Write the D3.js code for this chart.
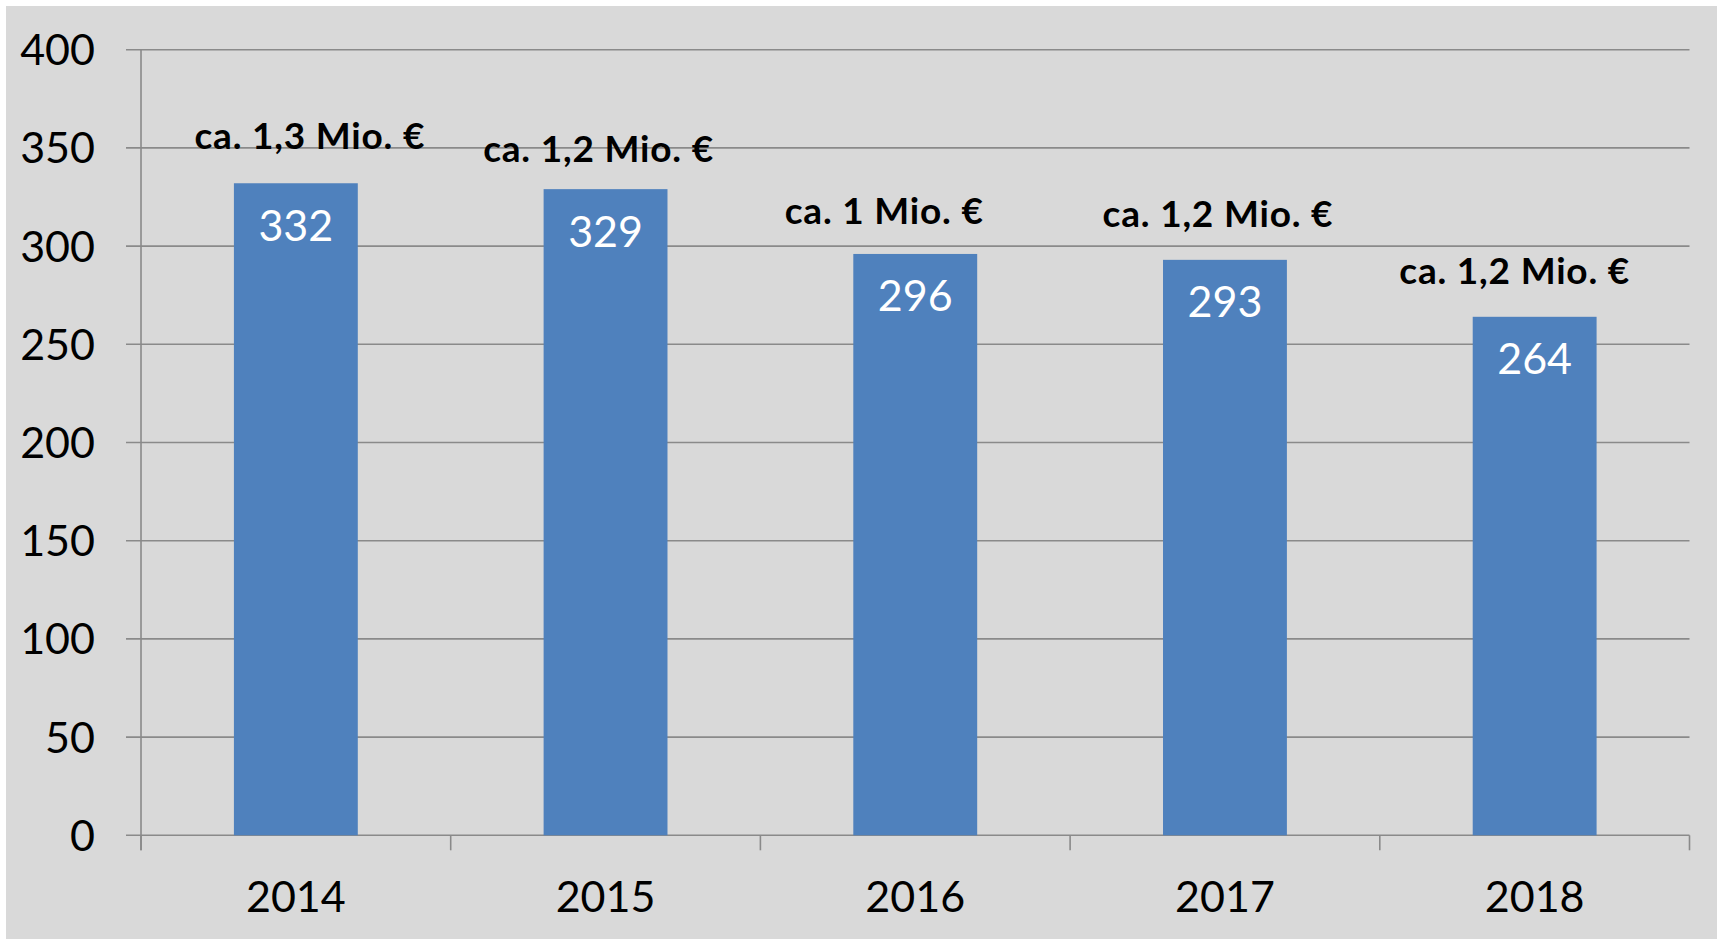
<!DOCTYPE html>
<html>
<head>
    <meta charset="utf-8">
    <script type="text/javascript" src="https://cdnjs.cloudflare.com/ajax/libs/d3/7.8.5/d3.min.js"></script>
    <style>
        body { margin: 0; background: white; }
        text { font-family: Lato, "Open Sans", sans-serif; }
    </style>
</head>
<body>
    <div id="chart"></div>
    <script type="text/javascript">
        // chart data
        const years = ["2014", "2015", "2016", "2017", "2018"];
        const counts = [332, 329, 296, 293, 264];
        const notes = ["ca. 1,3 Mio. €", "ca. 1,2 Mio. €", "ca. 1 Mio. €", "ca. 1,2 Mio. €", "ca. 1,2 Mio. €"];
        const yTicks = [0, 50, 100, 150, 200, 250, 300, 350, 400];

        // layout constants
        const width = 1717, height = 939;
        const plotLeft = 141, plotRight = 1689.5, plotTop = 49.7, plotBottom = 835.3;
        // hand placed text boxes above bars (dx from bar centre, dy above bar top)
        const noteShift = [[14, 48], [-7, 40], [-31, 43], [-7, 46], [-20, 46]];

        const svg = d3.select("#chart")
            .append("svg")
            .attr("width", width)
            .attr("height", height);

        svg.append("rect")
            .attr("x", 6).attr("y", 6)
            .attr("width", width - 6).attr("height", height - 6)
            .attr("fill", "#d9d9d9");

        const x = d3.scaleBand()
            .domain(years)
            .range([plotLeft, plotRight])
            .paddingInner(0.6)
            .paddingOuter(0.3);

        const y = d3.scaleLinear()
            .domain([0, 400])
            .range([plotBottom, plotTop]);

        // gridlines
        svg.selectAll("line.grid")
            .data(yTicks)
            .enter()
            .append("line")
            .attr("class", "grid")
            .attr("x1", plotLeft - 15)
            .attr("x2", plotRight)
            .attr("y1", d => y(d))
            .attr("y2", d => y(d))
            .attr("stroke", "#8a8a8a")
            .attr("stroke-width", 1.6);

        // y axis line
        svg.append("line")
            .attr("x1", plotLeft).attr("x2", plotLeft)
            .attr("y1", plotTop).attr("y2", plotBottom + 15)
            .attr("stroke", "#8a8a8a")
            .attr("stroke-width", 1.6);

        // category ticks
        const step = x.step();
        svg.selectAll("line.xtick")
            .data(d3.range(years.length + 1))
            .enter()
            .append("line")
            .attr("class", "xtick")
            .attr("x1", d => plotLeft + d * step)
            .attr("x2", d => plotLeft + d * step)
            .attr("y1", plotBottom)
            .attr("y2", plotBottom + 15)
            .attr("stroke", "#8a8a8a")
            .attr("stroke-width", 1.6);

        // y labels
        svg.selectAll("text.ylab")
            .data(yTicks)
            .enter()
            .append("text")
            .attr("class", "ylab")
            .attr("x", 95)
            .attr("y", d => y(d))
            .attr("dy", "0.36em")
            .attr("text-anchor", "end")
            .style("font-size", "43px")
            .text(d => d);

        // x labels
        svg.selectAll("text.xlab")
            .data(years)
            .enter()
            .append("text")
            .attr("class", "xlab")
            .attr("x", d => x(d) + x.bandwidth() / 2)
            .attr("y", 897)
            .attr("dy", "0.36em")
            .attr("text-anchor", "middle")
            .style("font-size", "43px")
            .text(d => d);

        // bars
        svg.selectAll("rect.bar")
            .data(counts)
            .enter()
            .append("rect")
            .attr("class", "bar")
            .attr("x", (d, i) => x(years[i]))
            .attr("y", d => y(d))
            .attr("width", x.bandwidth())
            .attr("height", d => y(0) - y(d))
            .attr("fill", "#4f81bd");

        // value labels
        svg.selectAll("text.val")
            .data(counts)
            .enter()
            .append("text")
            .attr("class", "val")
            .attr("x", (d, i) => x(years[i]) + x.bandwidth() / 2)
            .attr("y", d => y(d) + 42)
            .attr("dy", "0.36em")
            .attr("text-anchor", "middle")
            .attr("fill", "white")
            .style("font-size", "43px")
            .text(d => d);

        // annotations
        svg.selectAll("text.note")
            .data(notes)
            .enter()
            .append("text")
            .attr("class", "note")
            .attr("x", (d, i) => x(years[i]) + x.bandwidth() / 2 + noteShift[i][0])
            .attr("y", (d, i) => y(counts[i]) - noteShift[i][1])
            .attr("dy", "0.36em")
            .attr("text-anchor", "middle")
            .style("font-size", "37px")
            .style("letter-spacing", "0.8px")
            .style("font-weight", "bold")
            .text(d => d);
    </script>
</body>
</html>
